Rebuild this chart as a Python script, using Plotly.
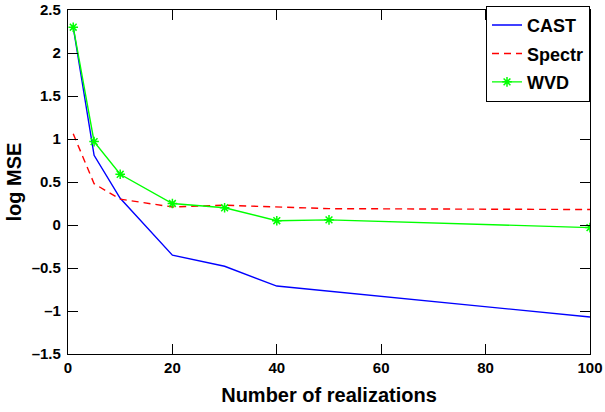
import plotly.graph_objects as go

x_cast = [1, 5, 10, 20, 30, 40, 100]
y_cast = [2.30, 0.81, 0.31, -0.35, -0.48, -0.71, -1.07]

x_spectr = [1, 5, 10, 20, 30, 40, 50, 100]
y_spectr = [1.06, 0.48, 0.30, 0.21, 0.23, 0.21, 0.19, 0.18]

x_wvd = [1, 5, 10, 20, 30, 40, 50, 100]
y_wvd = [2.30, 0.97, 0.59, 0.25, 0.20, 0.05, 0.06, -0.03]

x_ticks = [0, 20, 40, 60, 80, 100]
y_ticks = [-1.5, -1, -0.5, 0, 0.5, 1, 1.5, 2, 2.5]

FONT = "Liberation Sans, Arial, Helvetica, sans-serif"

fig = go.Figure()
fig.add_trace(go.Scatter(x=x_cast, y=y_cast, mode="lines", name="<b>CAST</b>",
                         line=dict(color="#0000ff", width=1.4), legendgroup="a"))
fig.add_trace(go.Scatter(x=x_spectr, y=y_spectr, mode="lines", name="<b>Spectr</b>",
                         line=dict(color="#ff0000", width=1.4, dash="7px,5px"), legendgroup="b"))
fig.add_trace(go.Scatter(x=x_wvd, y=y_wvd, mode="lines+markers", name="<b>WVD</b>",
                         line=dict(color="#00ff00", width=1.4),
                         marker=dict(symbol="asterisk-open", size=8,
                                     line=dict(color="#00ff00", width=1.5)),
                         legendgroup="c"))

axis_common = dict(showline=True, linecolor="black", linewidth=1.2, mirror="ticks",
                   ticks="inside", ticklen=10, tickwidth=1, tickcolor="black",
                   showgrid=False, zeroline=False, automargin=False,
                   tickfont=dict(family=FONT, size=15, color="black"))

fig.update_xaxes(range=[0, 100], tickvals=x_ticks,
                 ticktext=[f"<b>{v}</b>" for v in x_ticks],
                 title=dict(text="<b>Number of realizations</b>",
                            font=dict(family=FONT, size=20, color="black"), standoff=12),
                 **axis_common)
fig.update_yaxes(range=[-1.5, 2.5], tickvals=y_ticks,
                 ticktext=[f"<b>{v:g}</b>".replace("-", "\u2013") for v in y_ticks],
                 ticklabelstandoff=3,
                 title=dict(text="<b>log MSE</b>",
                            font=dict(family=FONT, size=20, color="black"), standoff=4),
                 **axis_common)

fig.update_layout(
    width=605, height=412,
    margin=dict(l=68, r=15, t=6, b=58),
    plot_bgcolor="white", paper_bgcolor="white",
    font=dict(family=FONT, color="black"),
    legend=dict(x=1, y=1.012, xanchor="right", yanchor="top",
                bgcolor="white", bordercolor="black", borderwidth=1,
                font=dict(family=FONT, size=18, color="black"),
                tracegroupgap=2),
    showlegend=True,
)

fig.write_html("out.html")
